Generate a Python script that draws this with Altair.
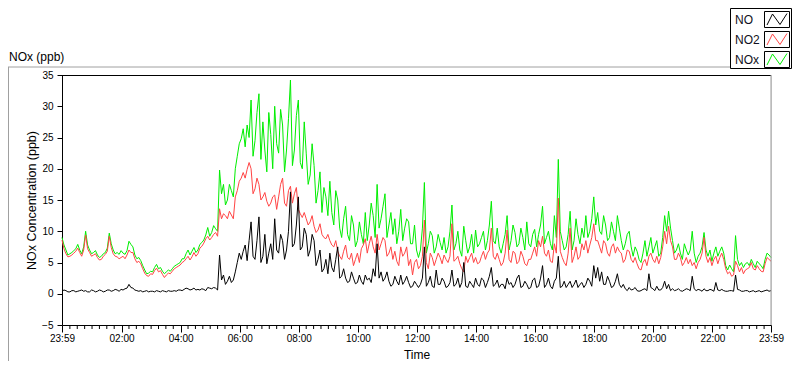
import altair as alt
import pandas as pd

# ---------------- data ----------------
# readings every 8 minutes starting 23:59 (= minute -1), plus readings of the
# in-between noise every 8 minutes starting 00:03
STEP_MIN = 8
NOX = [9.0, 7.0, 6.4, 6.9, 7.9, 6.4, 10.0, 7.0, 6.6, 6.2,
       6.0, 6.6, 9.7, 7.0, 6.6, 6.9, 6.3, 8.4, 7.5, 5.6,
       5.3, 3.8, 3.3, 3.5, 4.7, 4.2, 3.2, 3.8, 4.0, 4.6,
       5.0, 5.6, 7.0, 6.8, 6.6, 7.9, 8.6, 10.6, 9.8, 10.4,
       19.8, 17.5, 15.0, 16.5, 20.0, 24.0, 26.4, 27.0, 31.0, 24.5,
       32.0, 27.5, 19.5, 25.5, 30.0, 22.5, 27.0, 23.0, 34.2, 23.0,
       31.0, 20.0, 22.5, 19.0, 20.5, 16.5, 13.0, 15.5, 18.0, 11.0,
       15.0, 9.0, 14.0, 8.5, 11.0, 8.5, 9.5, 13.0, 11.0, 12.5,
       17.5, 12.0, 16.0, 11.0, 9.5, 8.0, 13.5, 10.5, 11.5, 8.0,
       7.0, 7.0, 17.8, 8.0, 9.3, 7.5, 8.2, 9.0, 7.5, 14.2,
       8.0, 7.0, 10.8, 6.5, 9.5, 10.2, 8.0, 10.0, 8.5, 14.8,
       8.0, 7.5, 8.0, 12.5, 8.5, 9.8, 8.0, 9.0, 11.5, 7.5,
       10.3, 9.5, 14.0, 9.0, 8.0, 12.5, 21.5, 8.5, 7.5, 13.2,
       8.5, 9.5, 10.5, 12.5, 10.0, 15.5, 13.0, 9.5, 11.0, 9.0,
       10.0, 12.5, 8.5, 8.0, 10.0, 6.0, 6.8, 5.0, 8.5, 7.5,
       6.5, 8.5, 6.5, 12.5, 13.2, 8.5, 7.0, 6.5, 8.0, 6.2,
       10.0, 5.0, 6.5, 9.8, 6.0, 5.2, 7.5, 6.8, 6.5, 3.8,
       4.0, 9.3, 4.5, 4.2, 5.0, 5.5, 4.2, 4.8, 4.0, 6.5, 5.8]
NOX_MID = [7.8, 6.2, 6.6, 7.2, 7.0, 7.5, 7.8, 6.4, 6.9, 5.8,
           6.4, 7.3, 8.0, 6.4, 6.3, 6.5, 6.9, 7.9, 6.2, 5.8,
           4.5, 3.2, 3.6, 4.2, 4.0, 3.6, 3.5, 3.6, 4.4, 4.8,
           5.6, 6.4, 6.2, 7.4, 7.0, 8.2, 9.4, 9.2, 10.9, 10.0,
           16.0, 14.2, 17.5, 15.5, 22.0, 24.8, 23.5, 25.0, 22.0, 29.0,
           21.5, 23.0, 29.0, 20.0, 24.0, 29.5, 19.5, 28.0, 20.5, 28.5,
           21.0, 27.5, 17.5, 24.0, 14.5, 19.5, 17.0, 12.5, 13.0, 16.5,
           10.5, 12.0, 9.5, 12.5, 7.5, 11.5, 8.0, 8.5, 14.5, 9.0,
           10.5, 14.0, 9.0, 13.0, 12.0, 10.0, 8.5, 12.0, 8.0, 11.0,
           5.8, 10.5, 6.5, 10.0, 6.5, 9.5, 7.0, 6.5, 10.0, 7.0,
           10.0, 6.0, 8.5, 7.5, 6.5, 7.5, 9.0, 7.0, 11.0, 8.5,
           10.5, 6.5, 9.5, 7.0, 11.0, 7.5, 10.5, 7.0, 8.0, 9.5,
           7.5, 11.0, 8.0, 10.0, 7.0, 9.0, 10.0, 7.0, 9.5, 7.0,
           12.0, 8.0, 9.0, 9.0, 12.0, 11.0, 10.0, 12.5, 8.5, 11.5,
           8.5, 10.5, 7.0, 9.5, 7.5, 7.5, 5.5, 6.5, 6.0, 9.0,
           7.5, 6.0, 9.0, 10.0, 10.5, 6.5, 8.0, 5.5, 7.0, 7.0,
           6.5, 6.0, 7.5, 7.0, 7.0, 6.5, 6.0, 7.5, 4.5, 4.6,
           3.5, 5.5, 5.0, 4.8, 4.5, 4.8, 5.2, 4.5, 5.5, 6.2]

NO2 = [8.6, 6.4, 6.0, 6.5, 7.3, 6.0, 9.4, 6.6, 6.2, 5.8,
       5.5, 6.3, 9.2, 6.4, 5.9, 5.8, 5.6, 7.0, 6.6, 5.0,
       4.8, 3.3, 2.8, 3.1, 4.1, 3.7, 2.6, 3.3, 3.6, 4.2,
       4.6, 5.2, 6.0, 5.9, 6.0, 7.3, 8.1, 9.2, 9.0, 9.8,
       13.6, 12.8, 12.0, 12.6, 15.5, 18.0, 19.4, 19.9, 20.0, 16.8,
       17.5, 15.5, 14.8, 14.5, 15.8, 15.5, 18.5, 14.0, 17.2, 16.0,
       13.5, 12.2, 12.0, 11.5, 10.8, 10.2, 9.5, 8.8, 8.5, 7.5,
       6.8, 5.5, 7.8, 5.5, 4.5, 6.5, 7.2, 8.8, 8.0, 7.5,
       9.5, 8.0, 8.5, 6.5, 5.5, 5.2, 7.5, 6.5, 4.5, 3.0,
       5.5, 4.5, 11.8, 4.0, 5.8, 5.5, 5.8, 6.2, 5.0, 11.2,
       5.5, 4.8, 3.5, 5.0, 6.5, 5.8, 5.0, 6.8, 6.5, 10.5,
       5.5, 5.5, 5.0, 10.2, 5.0, 6.5, 5.2, 6.0, 4.5, 5.5,
       7.5, 8.5, 9.2, 6.0, 5.2, 8.0, 15.3, 5.8, 4.5, 10.5,
       6.0, 5.5, 8.0, 8.5, 7.8, 11.2, 8.5, 6.5, 8.0, 6.0,
       8.0, 7.5, 6.5, 5.5, 6.8, 5.0, 4.8, 3.8, 5.5, 6.0,
       5.5, 6.0, 5.8, 10.0, 10.8, 7.5, 5.5, 5.8, 5.0, 4.8,
       4.5, 4.0, 5.5, 9.0, 5.0, 4.5, 6.0, 5.8, 5.5, 3.2,
       2.8, 5.2, 3.5, 3.2, 4.0, 5.0, 3.8, 4.0, 3.5, 5.8, 5.2]
NO2_MID = [7.2, 5.9, 6.2, 6.8, 6.6, 7.0, 7.2, 6.0, 6.4, 5.4,
           6.0, 6.8, 7.4, 6.0, 5.6, 6.0, 6.2, 6.6, 5.6, 5.2,
           4.0, 2.9, 3.2, 3.7, 3.5, 3.1, 3.0, 3.2, 4.0, 4.4,
           5.0, 5.6, 5.4, 6.6, 6.4, 7.6, 8.8, 8.6, 9.5, 9.2,
           12.0, 12.5, 13.2, 12.0, 16.5, 18.5, 18.5, 21.0, 16.0, 18.5,
           15.0, 16.2, 14.0, 15.5, 13.5, 17.5, 14.5, 16.5, 14.5, 17.0,
           12.8, 13.0, 11.0, 12.5, 9.8, 11.2, 9.0, 9.5, 7.8, 8.5,
           6.0, 6.8, 5.8, 6.5, 5.5, 5.0, 7.8, 6.5, 9.2, 6.5,
           7.0, 9.0, 6.0, 7.5, 6.8, 4.5, 6.0, 7.5, 5.5, 5.0,
           4.0, 6.0, 5.0, 6.5, 4.5, 6.5, 4.8, 5.5, 6.0, 5.2,
           6.0, 4.0, 6.0, 5.8, 5.0, 4.8, 6.0, 5.5, 7.0, 6.0,
           6.5, 4.5, 6.5, 5.5, 6.8, 4.8, 6.8, 4.8, 5.5, 6.5,
           6.0, 7.5, 6.5, 7.0, 5.0, 6.5, 6.8, 5.0, 6.5, 5.0,
           7.5, 6.0, 7.0, 6.5, 9.0, 8.5, 7.5, 8.5, 6.5, 7.5,
           6.5, 6.8, 5.0, 7.0, 5.5, 5.8, 4.0, 5.0, 4.5, 6.5,
           5.0, 4.8, 7.5, 8.0, 8.5, 5.5, 6.5, 4.5, 5.8, 5.5,
           5.0, 5.0, 6.5, 6.0, 5.8, 5.5, 4.8, 6.5, 4.0, 3.5,
           3.0, 4.5, 4.2, 3.8, 4.2, 4.0, 4.5, 3.6, 4.8, 5.5]

NO = [0.4, 0.5, 0.3, 0.5, 0.4, 0.6, 0.5, 0.3, 0.5, 0.4,
      0.5, 0.4, 0.6, 0.5, 0.6, 0.7, 0.8, 1.5, 0.9, 0.5,
      0.5, 0.4, 0.3, 0.4, 0.5, 0.3, 0.4, 0.5, 0.4, 0.4,
      0.6, 0.7, 0.8, 0.7, 0.6, 0.6, 0.7, 1.0, 0.8, 0.9,
      6.2, 3.0, 2.0, 1.8, 3.5, 6.5, 6.8, 5.3, 11.5, 5.5,
      12.3, 6.0, 4.8, 8.0, 12.0, 6.5, 8.5, 7.0, 16.3, 8.0,
      15.5, 7.5, 9.5, 7.0, 8.5, 5.5, 3.5, 5.5, 6.5, 3.5,
      7.5, 2.8, 2.5, 2.0, 2.5, 1.8, 2.0, 3.0, 2.5, 4.0,
      8.0, 3.5, 2.5, 2.0, 1.5, 2.0, 3.0, 2.0, 1.8, 1.2,
      1.5, 1.5, 7.5, 1.8, 1.2, 3.8, 1.5, 2.0, 1.2, 3.8,
      1.5, 1.0, 5.0, 1.0, 1.5, 2.5, 1.2, 2.2, 1.8, 4.2,
      1.5, 1.0, 1.5, 2.5, 1.8, 1.5, 3.0, 1.2, 1.5, 1.0,
      2.5, 1.2, 4.5, 1.5, 1.2, 2.0, 6.0, 1.2, 1.0, 2.0,
      1.5, 1.0, 1.8, 1.5, 2.0, 4.5, 4.2, 3.5, 1.5, 2.0,
      1.2, 3.2, 1.0, 0.8, 1.0, 0.7, 0.5, 0.5, 0.8, 3.2,
      0.8, 1.2, 0.6, 2.0, 1.5, 0.8, 0.6, 0.5, 0.6, 0.7,
      2.8, 0.5, 0.6, 0.8, 0.5, 0.6, 1.8, 0.5, 0.5, 0.4,
      0.5, 3.0, 0.6, 0.4, 0.5, 0.4, 0.3, 0.5, 0.4, 0.6, 0.5]
NO_MID = [0.6, 0.3, 0.5, 0.3, 0.5, 0.4, 0.3, 0.6, 0.3, 0.6,
          0.3, 0.6, 0.4, 0.7, 0.4, 0.6, 0.9, 1.0, 0.6, 0.4,
          0.3, 0.5, 0.4, 0.3, 0.4, 0.5, 0.3, 0.4, 0.5, 0.6,
          0.5, 0.9, 0.6, 0.9, 0.7, 0.8, 0.5, 0.9, 1.0, 0.6,
          2.2, 1.5, 2.8, 2.2, 5.0, 5.5, 7.8, 8.5, 6.0, 8.5,
          5.0, 9.5, 6.5, 5.5, 7.0, 9.5, 5.5, 10.0, 7.5, 11.0,
          7.0, 10.5, 6.0, 9.5, 4.5, 7.0, 4.0, 3.2, 4.2, 5.5,
          2.5, 4.0, 1.8, 3.5, 1.6, 3.0, 1.5, 2.2, 1.8, 2.8,
          2.5, 2.0, 3.5, 1.2, 2.8, 1.4, 1.5, 2.8, 1.0, 2.0,
          1.0, 2.5, 1.2, 2.8, 1.0, 1.5, 2.5, 1.0, 1.8, 1.2,
          2.5, 1.8, 1.2, 2.0, 1.0, 1.5, 2.5, 1.0, 2.8, 1.2,
          2.2, 1.5, 0.8, 1.5, 1.0, 2.5, 1.0, 2.0, 0.8, 2.2,
          1.0, 2.5, 1.0, 2.5, 0.8, 2.5, 1.0, 2.0, 1.5, 1.0,
          2.2, 1.5, 1.0, 2.5, 1.2, 2.5, 2.0, 1.5, 2.8, 1.0,
          2.0, 1.5, 1.5, 0.5, 0.6, 1.0, 0.4, 0.7, 0.5, 1.0,
          0.5, 0.6, 1.0, 0.8, 0.5, 0.5, 0.8, 0.4, 0.8, 0.5,
          0.8, 0.7, 0.4, 0.5, 0.7, 0.4, 0.6, 0.7, 0.4, 0.5,
          0.4, 0.7, 0.4, 0.5, 0.3, 0.5, 0.4, 0.3, 0.5, 0.4]

SERIES = ["NO", "NO2", "NOx"]
COLORS = ["#000000", "#FF4444", "#00EE00"]

MAJOR_TICKS = [-1, 120, 240, 360, 480, 600, 720, 840, 960, 1080, 1200, 1320, 1439]
MINOR_TICKS = [m for m in range(15, 1440, 15) if m % 120 != 0]
Y_TICKS = [-5, 0, 5, 10, 15, 20, 25, 30, 35]


def merge(main, mid):
    out = []
    for a, b in zip(main, mid):
        out += [a, b]
    return out + main[len(mid):]


TIMES = [-1 + (STEP_MIN // 2) * i for i in range(2 * len(NOX) - 1)]
df = pd.DataFrame({"t": TIMES, "NO": merge(NO, NO_MID),
                   "NO2": merge(NO2, NO2_MID), "NOx": merge(NOX, NOX_MID)})
dummy = pd.DataFrame({"d": [0]})

# ---------------- chart ----------------
W, H = 709, 250
PAD_TOP = 67
FONT = "Liberation Sans"

label_expr = ("datum.value < 0 || datum.value > 1430 ? '23:59' : "
              "(datum.value < 600 ? '0' : '') + floor(datum.value / 60) + ':00'")
XSCALE = alt.Scale(domain=[-1, 1439], nice=False, zero=False)

xenc = alt.X("t:Q", scale=XSCALE,
             axis=alt.Axis(values=MAJOR_TICKS, labelExpr=label_expr, title="Time",
                           tickSize=7, labelPadding=1, labelFlush=False,
                           labelOverlap=False, grid=False, domainColor="black",
                           tickColor="black", titleX=W / 2, titleY=29,
                           titleBaseline="middle", titleAlign="center",
                           titleFontWeight="normal", titleFont=FONT, titleFontSize=12))


def yenc(field):
    return alt.Y(f"{field}:Q",
                 scale=alt.Scale(domain=[-5, 35], nice=False, zero=False),
                 axis=alt.Axis(values=Y_TICKS, title="NOx Concentration (ppb)",
                               tickSize=5, labelPadding=4, grid=False,
                               domainColor="black", tickColor="black",
                               titleX=-31, titleY=H / 2, titleAngle=270,
                               titleAlign="center", titleBaseline="middle",
                               titleFontWeight="normal", titleFont=FONT,
                               titleFontSize=12.5))


base = alt.Chart(df)
lines = [
    base.mark_line(color=COLORS[2], strokeWidth=1).encode(x=xenc, y=yenc("NOx")),
    base.mark_line(color=COLORS[1], strokeWidth=1).encode(x=xenc, y=yenc("NO2")),
    base.mark_line(color=COLORS[0], strokeWidth=1).encode(x=xenc, y=yenc("NO")),
]

minor = alt.Chart(pd.DataFrame({"m": MINOR_TICKS})).mark_rule(
    color="black", strokeWidth=1).encode(
    x=alt.X("m:Q", scale=XSCALE), y=alt.value(H), y2=alt.value(H + 4))

deco = alt.Chart(dummy)
top_border = deco.mark_rule(color="black").encode(
    x=alt.value(0), x2=alt.value(W), y=alt.value(0.5))
right_border = deco.mark_rule(color="#9a9a9a").encode(
    x=alt.value(W), y=alt.value(0), y2=alt.value(H))
frame_top = deco.mark_rule(color="#a0a0a0").encode(
    x=alt.value(-54), x2=alt.value(668), y=alt.value(-8))
frame_left = deco.mark_rule(color="#a0a0a0").encode(
    x=alt.value(-53.5), y=alt.value(-8), y2=alt.value(H + 40))
title_txt = deco.mark_text(align="left", baseline="alphabetic", font=FONT,
                           fontSize=12, color="black").encode(
    x=alt.value(-53), y=alt.value(-14), text=alt.value("NOx (ppb)"))

legend_box = deco.mark_rect(fill="white", stroke="black", strokeWidth=1).encode(
    x=alt.value(668.5), x2=alt.value(729.5), y=alt.value(-PAD_TOP + 0.5), y2=alt.value(-6.5))

legend_layers = [legend_box]
ZIG = "M-1,0.55L-0.45,-0.55L0.3,0.5L1,-0.6"
for k, (name, col) in enumerate(zip(SERIES, COLORS)):
    top = -PAD_TOP + 3 + 20 * k
    legend_layers.append(deco.mark_text(align="left", baseline="middle", font=FONT,
                                        fontSize=12, color="#101020").encode(
        x=alt.value(673), y=alt.value(top + 8.5), text=alt.value(name)))
    legend_layers.append(deco.mark_rect(fill="white", stroke="black", strokeWidth=1).encode(
        x=alt.value(702.5), x2=alt.value(727.5), y=alt.value(top + 0.5), y2=alt.value(top + 16.5)))
    legend_layers.append(deco.mark_point(shape=ZIG, filled=False, size=400,
                                         color=col, strokeWidth=1, opacity=1).encode(
        x=alt.value(715), y=alt.value(top + 8.5)))

chart = alt.layer(*lines, minor, top_border, right_border, frame_top, frame_left,
                  title_txt, *legend_layers).properties(
    width=W, height=H,
    autosize=alt.AutoSizeParams(type="none"),
    padding={"left": 54, "top": PAD_TOP, "right": 21, "bottom": 36},
).configure_view(stroke=None).configure_axis(
    labelFont=FONT, labelFontSize=12, labelColor="black",
    titleFont=FONT, titleFontSize=12, titleFontWeight="normal", titleColor="black",
).configure(background="white")

chart.save("out.html", embed_options={"renderer": "svg", "actions": False})
